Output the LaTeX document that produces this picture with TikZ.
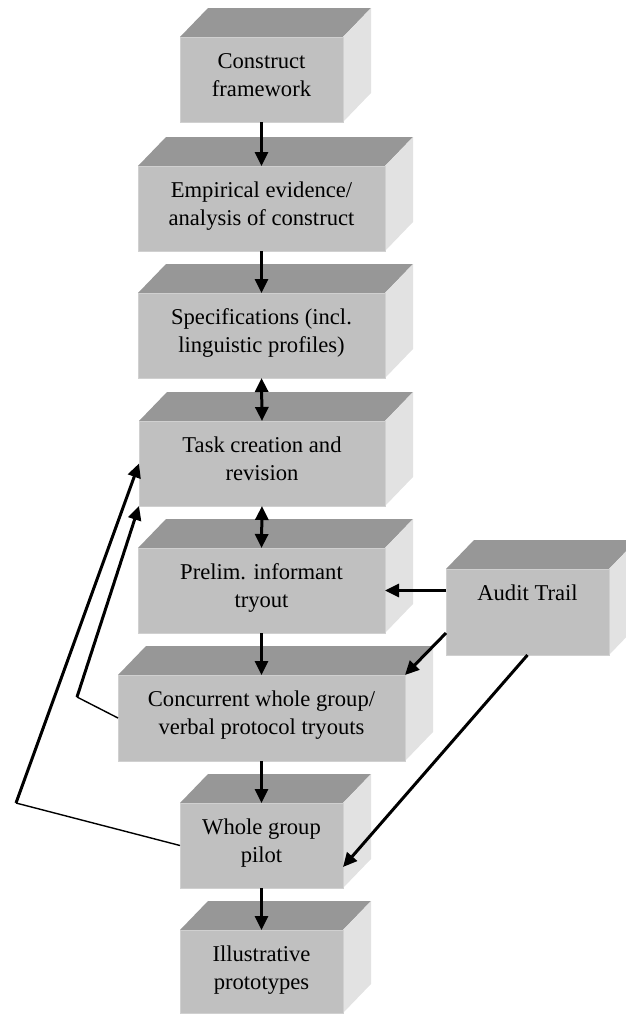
\documentclass[tikz,border=0pt]{standalone}
\usepackage{fontspec}
\setmainfont{Liberation Serif}
\usetikzlibrary{arrows.meta}
\definecolor{facec}{RGB}{192,192,192}
\definecolor{topc}{RGB}{151,151,151}
\definecolor{sidec}{RGB}{226,226,226}
\definecolor{edgec}{RGB}{208,208,208}
\tikzset{
  face/.style={fill=facec, draw=edgec, line width=0.8pt, inner sep=0pt, outer sep=0pt},
  txt/.style={font=\fontsize{22.6pt}{28pt}\selectfont, align=center, inner sep=0pt, text=black},
  arr/.style={line width=3pt, -{Triangle[length=14pt,width=13pt]}},
  dbl/.style={line width=3pt, {Triangle[length=14pt,width=13pt]}-{Triangle[length=14pt,width=13pt]}},
  thinseg/.style={line width=1.4pt},
}
% name, x1, y1, x2, y2, text, baseline offset of last line
\newcommand\cubebox[7]{%
  \fill[topc] (#2,#3) -- (#2+28,#3-29) -- (#4+28,#3-29) -- (#4,#3) -- cycle;
  \fill[sidec] (#4,#3) -- (#4+28,#3-29) -- (#4+28,#5-29) -- (#4,#5) -- cycle;
  \node[face, minimum width={#4-#2}, minimum height={#5-#3}] (#1) at ({(#2+#4)/2},{(#3+#5)/2}) {};
  \node[txt, anchor=base] at ({(#2+#4)/2},{#3+#7}) {#6};
}
\begin{document}
\begin{tikzpicture}[x=1pt,y=-1pt]
\useasboundingbox (0,0) rectangle (626,1015);
\clip (0,0) rectangle (626,1015);
\cubebox{b1}{180}{37}{343}{122}{Construct\\framework}{59}
\cubebox{b2}{138}{166}{385}{251}{Empirical evidence/\\analysis of construct}{59}
\cubebox{b3}{138}{293}{385}{378}{Specifications (incl.\\linguistic profiles)}{59}
\cubebox{b4}{139}{421}{385}{506}{Task creation and\\revision}{59}
\cubebox{b5}{138}{548}{385}{633}{Prelim. informant\\tryout}{59}
\cubebox{b6}{118}{675}{405}{761}{Concurrent whole group/\\verbal protocol tryouts}{59}
\cubebox{b7}{180}{803}{343}{888}{Whole group\\pilot}{59}
\cubebox{b8}{180}{930}{343}{1013}{Illustrative\\prototypes}{59}
\cubebox{audit}{446}{569}{609}{655}{Audit Trail}{31}
% main flow
\draw[arr] (b1.south) -- (b2.north);
\draw[arr] (b2.south) -- (b3.north);
\draw[dbl] (b3.south) -- (b4.north);
\draw[dbl] (b4.south) -- (b5.north);
\draw[arr] (b5.south) -- (b6.north);
\draw[arr] (b6.south) -- (b7.north);
\draw[arr] (b7.south) -- (b8.north);
% audit trail
\draw[arr] (audit.west |- b5.east) -- (b5.east);
\draw[arr] ([yshift=-21pt]audit.west) -- (b6.north east);
\draw[arr] (audit.south) -- ([yshift=-21.5pt]b7.east);
% feedback loops
\coordinate (c1) at (77,697);
\coordinate (c2) at (16,803);
\draw[thinseg] (b6.west) -- (c1);
\draw[arr] (c1) -- (b4.south west);
\draw[thinseg] (b7.west) -- (c2);
\draw[arr] (c2) -- (b4.west);
\end{tikzpicture}
\end{document}
